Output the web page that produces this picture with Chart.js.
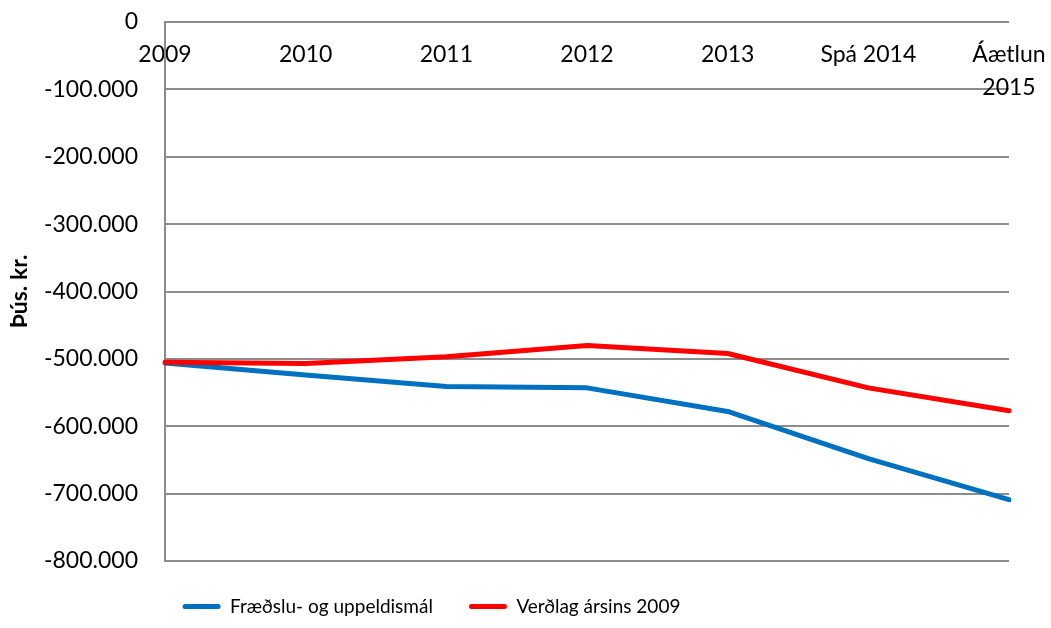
<!DOCTYPE html>
<html>
<head>
<meta charset="utf-8">
<script src="https://cdn.jsdelivr.net/npm/chart.js@4"></script>
<style>
  html, body { margin: 0; padding: 0; background: #fff; }
  #wrap { width: 1051px; height: 628px; }
</style>
</head>
<body>
<div id="wrap"><canvas id="chart"></canvas></div>
<script>
const years = ['2009', '2010', '2011', '2012', '2013', 'Spá 2014', ['Áætlun', '2015']];
const fraedsla = [-506000, -524000, -541000, -543000, -578000, -648000, -709000];
const verdlag2009 = [-505000, -507000, -497000, -480000, -492000, -543000, -577000];
const seriesNames = ['Fræðslu- og uppeldismál', 'Verðlag ársins 2009'];

const fmt = v => {
  const s = Math.abs(v).toFixed(0).replace(/\B(?=(\d{3})+(?!\d))/g, '.');
  return (v < 0 ? '-' : '') + s;
};

// move legend left so it sits where excel put it
const legendShift = {
  id: 'legendShift',
  afterLayout(chart) {
    const lg = chart.legend;
    lg.left -= 73;
    lg.right -= 73;
  }
};

Chart.defaults.font.family = 'Lato';
Chart.defaults.font.size = 23;
Chart.defaults.color = '#000';

new Chart(document.getElementById('chart'), {
  type: 'line',
  data: {
    labels: years,
    datasets: [{
      label: seriesNames[0],
      data: fraedsla,
      borderColor: '#0070c0',
      backgroundColor: '#0070c0',
      borderWidth: 5,
      order: 1
    }, {
      label: seriesNames[1],
      data: verdlag2009,
      borderColor: '#ff0000',
      backgroundColor: '#ff0000',
      borderWidth: 5,
      order: 0
    }]
  },
  options: {
    responsive: true,
    maintainAspectRatio: false,
    animation: false,
    elements: {
      point: { radius: 0 },
      line: { tension: 0, borderCapStyle: 'round', borderJoinStyle: 'round' }
    },
    layout: { padding: { top: 22, right: 42, bottom: 2, left: 0 } },
    scales: {
      x: {
        position: { y: 0 },
        offset: false,
        afterFit(scale) {
          scale.paddingLeft = 0; scale.paddingRight = 0;
          scale.paddingTop = 0; scale.paddingBottom = 0;
        },
        grid: { display: false, drawTicks: false },
        border: { display: false },
        ticks: {
          padding: 16,
          maxRotation: 0,
          autoSkip: false,
          font: { size: 23, lineHeight: 1.43 }
        }
      },
      y: {
        min: -800000,
        max: 0,
        afterFit(scale) {
          scale.width = 165;
          scale.paddingTop = 0; scale.paddingBottom = 0;
        },
        grid: { color: '#8c8c8c', lineWidth: 2, drawTicks: false },
        border: { display: true, color: '#8c8c8c', width: 2 },
        ticks: {
          stepSize: 100000,
          padding: 27,
          callback: v => fmt(v)
        },
        title: {
          display: true,
          text: 'Þús. kr.',
          padding: { top: 6, bottom: 0 },
          font: { size: 23, weight: 'bold' }
        }
      }
    },
    plugins: {
      tooltip: { enabled: false },
      legend: {
        position: 'bottom',
        labels: {
          boxWidth: 38,
          boxHeight: 5,
          padding: 36,
          font: { size: 19 },
          sort: (a, b) => a.datasetIndex - b.datasetIndex,
          generateLabels(chart) {
            const items = Chart.defaults.plugins.legend.labels.generateLabels(chart);
            items.forEach(it => {
              it.lineWidth = 0;
              it.fillStyle = it.strokeStyle;
              it.borderRadius = 2.5;
            });
            return items;
          }
        }
      }
    }
  },
  plugins: [legendShift]
});
</script>
</body>
</html>
